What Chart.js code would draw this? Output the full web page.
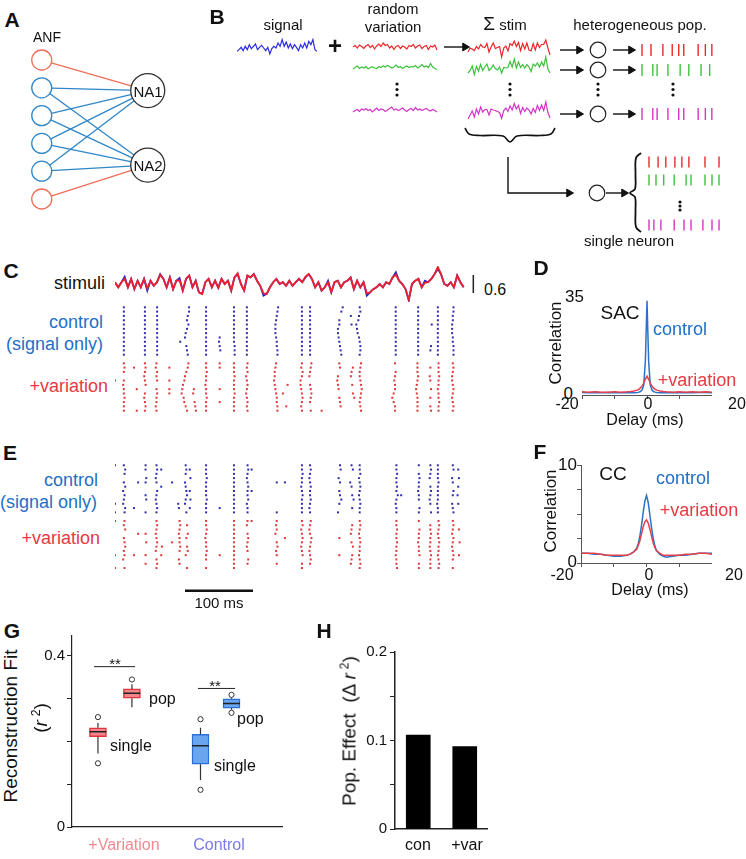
<!DOCTYPE html>
<html>
<head>
<meta charset="utf-8">
<script src="https://cdn.jsdelivr.net/npm/chart.js@4.4.1/dist/chart.umd.min.js"></script>
<style>
	body { margin: 0; background: #fff; }
	#fig { position: relative; width: 746px; height: 859px; overflow: hidden; font-family: "Liberation Sans", Arial, sans-serif; }
	.t { position: absolute; white-space: nowrap; line-height: 1; z-index: 5; }
	.p { position: absolute; }
	sup { font-size: 65%; vertical-align: 0.55em; line-height: 0; }
</style>
</head>
<body>
<div id="fig"></div>
<script>
/*
 * DATA
 */
	var o = null;

	/* A - network */
	var anfRows = [0, 1, 2, 3, 4, 5];
	var anfKind = ['r', 'b', 'b', 'b', 'b', 'r'];
	var naRows = [1.1, 3.78];
	var links = [[0,0],[1,0],[1,1],[2,0],[2,1],[3,0],[3,1],[4,0],[4,1],[5,1]];

	/* B - schematic traces, arbitrary units */
	var signalTrace = [-0.67,-0.33,0.13,-0.53,0.33,-0.33,0.67,-0.13,0.33,0.8,-0.33,0.13,0.53,0,-0.53,0.13,-1.2,-0.13,0.33,0,1.0,0.33,1.67,0.33,1.2,0,0.8,-0.13,0.67,0.13,-0.53,0.67,0,1.0,0,1.33,0.67,1.67,-0.33,-0.67];
	var varRed = [0,0.3,-0.2,0.4,0.1,-0.3,0.2,0.5,-0.1,0.3,-0.4,0.2,0.6,0.1,0.8,0.3,0.5,-0.2,0.2,-0.5,0.1,0.3,-0.3,0.2,0,-0.4,0.3,0.1,0.5,-0.2,0.2,0.4,-0.3,0.1,0.3,-0.5,0.2,0,0.4,-0.6];
	var varGreen = [-0.2,0.1,0.4,-0.1,0.2,0,0.3,-0.2,0.1,0.2,0,-0.1,0.3,0.1,0.4,0.2,0.5,0.3,0,0.2,0.6,0.1,0.3,-0.1,0.2,0.4,0.1,0.3,0.2,0.5,0,0.3,0.7,0.2,0.4,0.1,0.9,0.2,-0.1,-0.3];
	var varMagenta = [-0.2,0.1,0.3,-0.1,0.4,0.2,0.5,0.1,0.3,-0.2,0.2,0.6,0.1,0.4,0.3,-0.1,0.2,0.5,0.8,0.2,0.4,0.1,0.3,0.6,0.2,-0.1,0.3,0.5,0.1,0.7,0.2,0.4,0.1,0.3,0.5,0.2,0,0.3,0.1,-0.2];
	var stimRed = [-0.6,0.2,0,-0.3,0.5,0,0.9,0.4,0.3,1.1,-0.6,0.4,1.2,0.1,0.3,0.5,-1.6,0.2,0.6,-0.4,1.1,0.7,1.6,0.5,1.3,-0.3,1.1,0,1.2,-0.2,-0.4,1.1,-0.2,1.2,0.3,0.9,0.9,1.8,0.2,-1.2];
	var stimGreen = [-0.8,-0.3,0.6,-1.1,0.5,-0.4,0.9,-0.3,0.4,1.0,-0.3,0.1,0.8,0.1,-0.2,0.4,-0.8,0.3,0.2,0.3,1.5,0.4,2.0,0.2,1.4,0.3,0.9,0.2,0.9,0.4,-0.5,1.0,0.6,1.2,0.4,1.4,0.6,2.4,0,-0.8];
	var stimMagenta = [-1.2,-0.4,0.4,-0.8,0.8,-0.2,1.2,0.2,0.7,0.7,-0.4,0.8,0.6,0.5,0.3,0.1,-1.1,0.5,1.0,0.3,1.4,0.6,1.9,0.8,1.5,-0.1,1.1,0.3,1.0,0.6,-0.2,0.9,0.1,1.5,0.5,1.6,0.5,2.2,0.1,-1.0];
	var popRed = [0,12.5,29,42,51,58,78,88,97];
	var popGreen = [0,15,21,36,53,65,82,94];
	var popMagenta = [0,15,21,36,51,58,78,88,97];
	var singleRed = [0,13,24,37,47,57,80,100];
	var singleGreen = [0,10,21,36,53,60,80,90,100];
	var singleMagenta = [0,7,17,36,50,60,77,90,100];

	/* C - stimuli: signal alone and signal + variation */
	var stimSignal = [0.06,-0.11,0.06,0.24,-0.11,0.17,-0.17,0.11,-0.11,0.17,
		-0.22,0.11,-0.06,0.06,0.33,0.17,-0.11,0.22,-0.17,0.11,
		0.2,-0.22,0.17,0.28,-0.11,0.11,-0.28,-0.33,0.06,0.17,
		-0.11,0.11,-0.13,0.17,0,0.11,-0.22,0.22,0.33,0,
		-0.22,0.28,0.22,0.33,0.11,-0.06,-0.39,-0.33,-0.11,0.06,
		0.17,0,0.06,-0.06,0.11,-0.06,0.06,0.17,0.06,0.22,
		0.33,0.17,-0.11,0.06,-0.22,-0.11,0.11,-0.28,0.06,0.11,
		-0.11,0.06,0.11,0.22,-0.17,0.11,-0.11,0.06,-0.39,-0.28,
		-0.17,-0.11,0,-0.11,0.06,0,0.22,0.39,0.11,0,
		-0.17,-0.55,0,0.11,0.17,-0.11,0.11,0.06,0.17,0.33,
		0.5,0.33,0,-0.06,0.06,-0.11,0.28,0.06,-0.11];
	var stimVaried = [0.06,-0.11,0.06,0.17,-0.11,0.17,-0.17,0.11,-0.11,0.17,
		-0.15,0.11,-0.06,0.06,0.3,0.17,-0.11,0.22,-0.17,0.11,
		0.12,-0.22,0.17,0.28,-0.11,0.11,-0.28,-0.33,0.06,0.17,
		-0.11,0.11,-0.13,0.17,0,0.11,-0.22,0.22,0.36,0,
		-0.22,0.28,0.22,0.33,0.11,-0.06,-0.31,-0.33,-0.11,0.06,
		0.17,0,0.06,-0.06,0.11,-0.06,0.06,0.17,0.06,0.25,
		0.33,0.17,-0.11,0.06,-0.22,-0.11,0.05,-0.28,0.06,0.11,
		-0.11,0.06,0.11,0.22,-0.17,0.11,-0.11,0.06,-0.31,-0.28,
		-0.17,-0.11,0,-0.11,0.06,0,0.22,0.31,0.11,0,
		-0.17,-0.52,0,0.11,0.17,-0.11,0.04,0.06,0.17,0.33,
		0.57,0.33,0,-0.06,0.06,-0.11,0.28,0.06,-0.11];
	var stimBar = 0.6;

	/* C, E - rasters: [spike time (ms), offset in each of 12 trials (ms), null = no spike] */
	var rasterCBlue = [
		[13, 0,0,0,0,0,0,0,0,0,0,0,0],
		[44, 0,0,0,0,0,0,0,0,0,0,0,0],
		[62, 0,0,0,0,0,0,0,0,0,0,0,0],
		[106, 3,3,1,0,2,0,-2,-3,-10,-1,0,1],
		[134, 0,0,0,0,0,0,0,0,0,0,0,0],
		[154, o,o,o,o,o,o,o,0,-1,0,1,o],
		[175, 0,0,0,0,0,0,0,0,0,1,1,1],
		[194, 0,0,0,0,0,0,0,0,0,0,0,0],
		[238, 2,1,0,-1,-2,-2,-2,-1,0,0,1,1],
		[275, 0,0,0,0,0,0,0,0,0,0,0,0],
		[287, 0,0,0,0,0,0,0,0,0,0,0,0],
		[332, 3,1,o,-2,-2,-4,-4,-3,-2,-1,0,1],
		[347, o,o,0,o,1,o,o,o,o,o,o,o],
		[359, 1,2,0,-1,-4,-3,-2,0,1,2,2,1],
		[413, 0,0,0,0,0,0,0,0,0,0,0,0],
		[446, 0,0,0,0,0,0,0,0,0,0,0,0],
		[466, o,o,o,o,0,o,o,o,o,-1,-2,o],
		[475, 0,0,0,0,0,0,0,0,0,0,0,0],
		[497, 1,1,0,0,-1,-1,-1,0,0,1,1,1]
	];
	var rasterCRed = [
		[0, o,o,o,o,0,o,o,o,o,o,o,o],
		[13, 0,1,0,o,0,-1,0,0,1,0,0,0],
		[28, o,0,o,o,o,o,o,o,o,o,o,o],
		[32, o,o,o,o,o,o,0,o,o,o,o,0],
		[44, 0,1,0,-1,0,1,o,0,-1,0,1,0],
		[61, 0,-1,1,0,1,o,0,1,0,0,-1,0],
		[80, o,0,o,o,0,o,0,0,o,o,o,o],
		[104, 4,3,1,-1,-2,-4,-5,-6,-3,-2,0,2],
		[116, o,o,o,o,o,o,0,-1,o,1,2,3],
		[134, 0,0,1,0,0,-1,0,0,1,0,0,0],
		[154, 0,0,o,o,o,o,0,o,o,0,o,o],
		[175, 0,0,0,1,0,0,0,1,0,0,0,0],
		[194, 1,0,1,-1,0,1,0,-1,0,1,0,1],
		[237, 0,-1,-2,-2,-3,-2,-1,0,1,1,2,2],
		[250, o,o,o,o,o,4,o,-3,o,o,2,o],
		[275, 0,-1,1,0,-2,-2,-1,0,1,0,-1,0],
		[287, 2,1,0,-1,o,0,1,2,1,0,o,1],
		[304, o,o,o,o,o,o,o,o,o,o,o,0],
		[330, 0,1,o,-2,-3,-2,-1,o,0,1,2,o],
		[350, o,0,-2,-3,o,-1,o,0,2,o,o,o],
		[361, 1,0,-1,-1,0,1,2,1,0,-1,0,1],
		[412, 0,o,1,0,-1,0,0,-2,-4,-2,0,0],
		[445, 0,0,0,1,0,-1,-2,-1,0,0,0,0],
		[464, o,0,o,-1,0,o,1,o,0,o,0,1],
		[476, 0,0,0,1,0,0,-1,0,0,1,0,0],
		[497, 0,1,0,-1,-1,0,1,0,-1,0,1,0]
	];
	var rasterEBlue = [
		[0, 0,o,o,o,o,o,o,o,o,0,o,0],
		[13, 0,2,1,o,0,2,-1,1,0,-1,2,1],
		[28, o,o,o,o,o,o,o,o,o,o,0,o],
		[34, o,o,o,o,0,o,o,o,o,o,o,o],
		[45, 0,0,o,1,0,o,o,0,1,o,o,0],
		[61, 0,1,0,-1,0,o,1,0,-1,0,1,0],
		[68, o,0,o,o,o,0,o,o,o,o,o,o],
		[84, o,o,o,o,0,o,o,o,o,o,o,o],
		[93, o,o,o,o,o,o,o,o,o,0,1,o],
		[104, 0,1,0,o,-1,0,1,2,0,-1,o,1],
		[110, o,0,o,1,o,o,0,o,1,o,0,o],
		[134, 0,0,0,1,0,0,0,0,1,0,0,0],
		[154, o,o,o,o,o,o,o,o,o,o,0,o],
		[175, 0,0,0,0,0,0,0,0,0,0,0,0],
		[195, 0,1,0,-1,0,1,0,0,1,-1,0,0],
		[201, o,0,o,o,o,o,0,o,o,o,o,o],
		[238, o,o,o,o,0,o,o,o,o,o,o,0],
		[250, o,o,o,o,0,o,o,o,o,o,o,o],
		[275, 0,0,1,0,0,-1,0,1,0,0,0,0],
		[287, 0,1,0,-1,0,1,0,0,1,0,-1,0],
		[331, 0,1,o,-2,0,o,-1,0,2,-1,o,-3],
		[348, 0,2,o,o,-2,0,o,1,3,o,1,o],
		[360, 0,0,1,-1,0,1,0,-1,0,1,0,0],
		[414, 0,0,1,0,0,1,0,2,0,-1,0,0],
		[421, o,o,o,o,o,o,o,0,o,o,o,o],
		[447, 0,o,0,1,0,0,-1,0,0,o,1,0],
		[464, 0,1,0,-1,o,0,1,0,-1,0,o,1],
		[475, 0,0,0,0,1,0,0,0,0,-1,0,0],
		[497, 0,1,o,-1,0,o,1,0,o,-1,0,1],
		[505, o,0,o,1,o,0,o,-1,o,0,o,o]
	];
	var rasterERed = [
		[0, 0,o,o,o,o,o,o,o,0,o,o,0],
		[13, 1,0,2,o,0,1,2,0,1,-1,o,1],
		[28, o,o,o,o,o,o,o,o,0,o,o,o],
		[34, o,o,o,0,o,o,o,o,o,o,o,o],
		[45, o,o,o,0,o,1,o,o,0,o,0,o],
		[61, 0,1,0,-1,0,1,0,-1,o,0,1,0],
		[68, o,o,o,o,o,o,1,o,0,o,o,o],
		[84, o,o,o,o,o,0,o,o,o,o,o,o],
		[95, 0,1,0,-1,0,0,1,0,o,-1,0,o],
		[106, o,0,o,1,-1,o,0,1,-2,o,o,0],
		[134, 0,0,1,0,-1,0,0,1,0,0,o,0],
		[154, o,o,o,o,o,o,o,o,0,o,o,o],
		[175, 0,0,0,0,0,0,0,0,0,0,0,0],
		[195, 0,-1,o,0,1,0,-1,0,o,1,0,o],
		[201, 0,o,o,o,o,o,o,o,o,o,o,o],
		[238, 0,-1,0,-2,o,0,1,-1,0,o,0,o],
		[250, o,o,o,o,0,o,o,o,o,o,o,o],
		[275, 0,1,-1,0,1,0,-1,0,1,o,0,0],
		[287, 1,0,-1,0,2,1,0,-1,0,1,0,o],
		[330, o,o,o,o,0,o,o,o,0,o,o,o],
		[348, o,1,0,-1,o,0,2,o,1,0,-1,o],
		[360, 0,1,0,-1,0,1,0,0,-1,0,1,0],
		[414, 0,0,1,0,0,1,0,0,-1,0,0,1],
		[447, 0,o,1,0,0,-1,0,0,1,o,0,0],
		[464, o,0,0,1,0,0,-1,0,1,0,0,0],
		[476, 0,1,0,-1,0,1,0,0,-1,0,1,0],
		[497, 0,1,0,-1,1,0,-1,0,1,0,o,0],
		[506, o,o,0,o,o,1,o,o,0,o,o,o]
	];
	var scaleBarMs = [103, 203];

	/* D, F - correlograms */
	var delays = [-20,-18,-16,-14,-12,-10,-8,-6,-5,-4,-3,-2.5,-2,-1.5,-1,-0.5,0,0.5,1,1.5,2,2.5,3,4,5,6,8,10,12,14,16,18,20];
	var sacControl = [0.9,0.8,0.9,0.8,0.9,0.8,0.8,0.9,0.8,0.8,0.9,1.0,1.2,1.8,3.5,12,33,12,3.5,1.8,1.2,1.0,0.9,0.8,0.8,0.8,0.9,0.8,0.9,0.8,0.9,0.9,0.8];
	var sacVaried = [1.1,1.0,1.1,1.0,1.0,1.1,1.0,1.1,1.2,1.4,1.7,2.0,2.5,3.2,4.2,5.5,6.6,5.5,4.2,3.2,2.5,2.0,1.7,1.4,1.2,1.1,1.0,1.1,1.0,1.1,1.0,1.1,1.0];
	var ccControl = [1.0,1.0,0.9,0.9,0.8,0.7,0.7,0.8,0.9,1.1,1.5,2.0,2.8,3.9,5.2,6.3,6.9,6.2,5.0,3.7,2.6,1.8,1.3,0.9,0.7,0.6,0.7,0.8,0.8,0.9,1.0,1.0,1.0];
	var ccVaried = [1.0,1.0,1.0,0.9,0.8,0.8,0.8,0.8,0.9,1.1,1.4,1.8,2.3,3.0,3.7,4.2,4.4,4.1,3.5,2.8,2.1,1.6,1.3,1.0,0.8,0.8,0.8,0.8,0.9,0.9,1.0,1.0,0.9];

	/* G - reconstruction fit boxes: +Var single, +Var pop, Control single, Control pop */
	var boxLo  = [0.172, 0.280, 0.110, 0.274];
	var boxQ1  = [0.211, 0.301, 0.147, 0.278];
	var boxMed = [0.223, 0.313, 0.190, 0.289];
	var boxQ3  = [0.232, 0.323, 0.217, 0.300];
	var boxHi  = [0.243, 0.334, 0.232, 0.303];
	var boxOut = [[0.257, 0.149], [0.345], [0.252, 0.087], [0.309, 0.267]];
	var sigLevel = [0.375, 0.324];
	var gTicks = [0, 0.1, 0.2, 0.3, 0.4];
	var gTickText = ['0', '', '', '', '0.4'];

	/* H - population effect */
	var hCats = ['con', '+var'];
	var hValues = [0.106, 0.093];
	var hTicks = [0, 0.05, 0.1, 0.15, 0.2];
	var hTickText = ['0', '', '0.1', '', '0.2'];

/*
 * LAYOUT
 */
	var BLUE_T = '#1f6fc6', RED_T = '#e63a40';
	var fig = document.getElementById('fig');

	Chart.defaults.font.family = '"Liberation Sans", Arial, sans-serif';
	Chart.defaults.font.size = 15;
	Chart.defaults.color = '#111';
	Chart.defaults.plugins.legend.display = false;
	Chart.defaults.plugins.tooltip.enabled = false;
	Chart.defaults.animation = false;
	Chart.defaults.events = [];
	Chart.defaults.responsive = false;

	/* TEXT - absolutely placed label */
	function txt(s, x, y, opt) {
		opt = opt || {};
		var d = document.createElement('div');
		d.className = 't';
		d.innerHTML = s;
		d.style.left = x + 'px';
		d.style.top = y + 'px';
		d.style.fontSize = (opt.size || 16) + 'px';
		if (opt.bold) d.style.fontWeight = 'bold';
		d.style.color = opt.color || '#111';
		var tx = opt.align == 'r' ? '-100%' : (opt.align == 'l' ? '0' : '-50%');
		d.style.transform = 'translate(' + tx + ',-50%)' + (opt.rot ? ' rotate(' + opt.rot + 'deg)' : '');
		fig.appendChild(d);
	}

	/* CHART - area = plotting box [x, y, w, h], pad = [left, right, top, bottom] */
	function panel(area, pad, cfg) {
		var w = Math.round(area[2] + pad[0] + pad[1]);
		var h = Math.round(area[3] + pad[2] + pad[3]);
		var d = document.createElement('div');
		d.className = 'p';
		d.style.left = (area[0] - pad[0]) + 'px';
		d.style.top = (area[1] - pad[2]) + 'px';
		var c = document.createElement('canvas');
		c.width = w; c.height = h;
		c.style.width = w + 'px'; c.style.height = h + 'px';
		d.appendChild(c);
		fig.appendChild(d);
		cfg.options.layout = { autoPadding: false, padding: cfg.options.pad || 0 };
		return new Chart(c, cfg);
	}

	function hidden(min, max, rev) {
		return { type: 'linear', display: false, min: min, max: max, reverse: !!rev };
	}
	/* fixed axis size, and no extra room for half labels at the ends */
	function fitW(n) {
		return function(s) { s.width = n; s.paddingTop = 0; s.paddingBottom = 0; };
	}
	function fitH(n) {
		return function(s) { s.height = n; s.paddingLeft = 0; s.paddingRight = 0; };
	}

	function path(data, color, width, more) {
		return Object.assign({ data: data, showLine: true, borderColor: color, borderWidth: width,
			pointRadius: 0, fill: false, tension: 0, clip: false }, more || {});
	}
	function marks(data, color, radius, more) {
		return Object.assign({ data: data, showLine: false, pointRadius: radius, pointStyle: 'circle',
			pointBackgroundColor: color, pointBorderColor: color, pointBorderWidth: 0, clip: false }, more || {});
	}
	function xy(arr) { return arr.map(function(p) { return { x: p[0], y: p[1] }; }); }

/*
 * PANEL A - network
 */
	(function() {
		var ds = [];
		links.forEach(function(l) {
			var col = anfKind[l[0]] == 'r' ? '#ee6e58' : '#2f86c8';
			ds.push(path([{ x: 0, y: anfRows[l[0]] }, { x: 1, y: naRows[l[1]] }], col, 1.3, { order: 2 }));
		});
		ds.push(marks(anfRows.map(function(r) { return { x: 0, y: r }; }), '#fff', 10, {
			pointBorderColor: anfKind.map(function(k) { return k == 'r' ? '#ee6e58' : '#2f86c8'; }),
			pointBorderWidth: 1.3, order: 0 }));
		ds.push(marks(naRows.map(function(r) { return { x: 1, y: r }; }), '#fff', 17, {
			pointBorderColor: '#333', pointBorderWidth: 1.3, order: 0 }));
		panel([20, 40, 150, 180], [0, 0, 0, 0], {
			type: 'scatter', data: { datasets: ds },
			options: { scales: { x: hidden(-0.205, 1.21), y: hidden(-0.72, 5.755, true) } }
		});
	})();

/*
 * PANEL B - schematic
 */
	(function() {
		var C_BLUE = '#2c2ce0', C_RED = '#e8282a', C_GREEN = '#3cc23c', C_MAG = '#d534c6';
		var ds = [];
		function trace(vals, x0, width, y0) {
			return vals.map(function(v, i) { return { x: x0 + i * width / (vals.length - 1), y: y0 - v * 5 }; });
		}
		function spikes(times, x0, k, y0, col, r) {
			return marks(times.map(function(t) { return { x: x0 + t * k, y: y0 }; }), col, r, {
				pointStyle: 'line', pointRotation: 90, pointBorderColor: col, pointBorderWidth: 1.4 });
		}
		function arrow(pts) {
			return path(xy(pts), '#111', 1.4, { pointRadius: pts.map(function(p, i) { return i == pts.length - 1 ? 4.5 : 0; }),
				pointStyle: 'triangle', pointRotation: 90, pointBackgroundColor: '#111', pointBorderColor: '#111', pointBorderWidth: 1 });
		}

		ds.push(path(trace(signalTrace, 237, 80, 48), C_BLUE, 1.2));
		ds.push(path(trace(varRed, 353, 84, 47), C_RED, 1.2));
		ds.push(path(trace(varGreen, 353, 84, 68), C_GREEN, 1.2));
		ds.push(path(trace(varMagenta, 353, 84, 111), C_MAG, 1.2));
		ds.push(path(trace(stimRed, 468, 82, 49), C_RED, 1.2));
		ds.push(path(trace(stimGreen, 468, 82, 69), C_GREEN, 1.2));
		ds.push(path(trace(stimMagenta, 468, 82, 113), C_MAG, 1.2));

		ds.push(spikes(popRed, 642, 0.72, 50, C_RED, 6));
		ds.push(spikes(popGreen, 642, 0.72, 70, C_GREEN, 6));
		ds.push(spikes(popMagenta, 642, 0.72, 114, C_MAG, 6));
		ds.push(spikes(singleRed, 649, 0.7, 162, C_RED, 5.5));
		ds.push(spikes(singleGreen, 649, 0.7, 180, C_GREEN, 5.5));
		ds.push(spikes(singleMagenta, 649, 0.7, 225, C_MAG, 5.5));

		var el = [];
		[397, 510, 598, 673].forEach(function(x) { [84, 89.5, 95].forEach(function(y) { el.push({ x: x, y: y }); }); });
		[202, 206, 210].forEach(function(y) { el.push({ x: 680, y: y }); });
		ds.push(marks(el, '#111', 1.6));

		ds.push(marks(xy([[598, 50], [598, 70], [598, 114], [597, 193]]), '#fff', 7.8, {
			pointBorderColor: '#222', pointBorderWidth: 1.2 }));

		[[444,465,47],[560,579,50],[560,579,70],[560,579,114],[613,631,50],[613,631,70],[613,631,114],[606,624,193]]
			.forEach(function(a) { ds.push(arrow([[a[0], a[2]], [a[1], a[2]]])); });
		ds.push(arrow([[508, 157], [508, 193], [569, 193]]));

		ds.push(path(xy([[465,128],[469,134],[480,135.5],[503,136],[510,142],[517,136],[540,135.5],[551,134],[555,128]]), '#111', 1.6, { tension: 0.35 }));
		ds.push(path(xy([[641,153],[636,158],[635.5,175],[635,189],[630,193],[635,197],[635.5,211],[636,227],[641,232]]), '#111', 1.8, { tension: 0.35 }));

		panel([225, 0, 500, 250], [0, 0, 0, 0], {
			type: 'scatter', data: { datasets: ds },
			options: { scales: { x: hidden(225, 725), y: hidden(0, 250, true) } }
		});
	})();

/*
 * PANEL C - stimuli and rasters
 */
	function raster(cols, first) {
		var out = [];
		cols.forEach(function(c) {
			for (var k = 1; k < c.length; k++) {
				if (c[k] !== null) out.push({ x: c[0] + c[k], y: first + k - 1 });
			}
		});
		return out;
	}
	var R_BLUE = '#2b2ba8', R_RED = '#dc3434';
	var dotOpt = { pointStyle: 'rect' };

	panel([115, 266, 368, 36], [0, 0, 0, 0], {
		type: 'scatter',
		data: { datasets: [
			path(stimVaried.map(function(v, i) { return { x: i, y: v }; }), '#f0202c', 1.8, { order: 0 }),
			path(stimSignal.map(function(v, i) { return { x: i, y: v }; }), '#2626c4', 1.8, { order: 1 }),
			path([{ x: 111, y: -stimBar / 2 }, { x: 111, y: stimBar / 2 }], '#222', 1.5)
		] },
		options: { scales: { x: hidden(0, 114), y: hidden(-0.6, 0.6) } }
	});

	panel([115, 303, 348, 112], [0, 0, 0, 0], {
		type: 'scatter',
		data: { datasets: [
			marks(raster(rasterCBlue, 0), R_BLUE, 1.4, dotOpt),
			marks(raster(rasterCRed, 13), R_RED, 1.4, dotOpt)
		] },
		options: { scales: { x: hidden(0, 512), y: hidden(-1, 25, true) } }
	});

/*
 * PANEL E - rasters with scale bar
 */
	panel([115, 461, 348, 137], [0, 0, 0, 0], {
		type: 'scatter',
		data: { datasets: [
			marks(raster(rasterEBlue, 0), R_BLUE, 1.4, dotOpt),
			marks(raster(rasterERed, 13), R_RED, 1.4, dotOpt),
			path([{ x: scaleBarMs[0], y: 29.3 }, { x: scaleBarMs[1], y: 29.3 }], '#111', 2.5)
		] },
		options: { scales: { x: hidden(0, 512), y: hidden(-1, 31, true) } }
	});

/*
 * PANELS D, F - correlograms
 */
	function corr(arr) { return delays.map(function(d, i) { return { x: d, y: arr[i] }; }); }
	var delayAxis = {
		type: 'linear', min: -20, max: 20, position: 'bottom',
		ticks: { display: false, stepSize: 10 },
		grid: { drawOnChartArea: false, tickLength: 4, color: '#555' },
		border: { color: '#555', width: 1 },
		afterFit: fitH(6)
	};

	panel([582, 295, 130, 100], [0, 0, 0, 6], {
		type: 'scatter',
		data: { datasets: [
			path(corr(sacVaried), '#e6404a', 1.5, { order: 0 }),
			path(corr(sacControl), '#2a72c8', 1.5, { order: 1 })
		] },
		options: { scales: { x: delayAxis, y: hidden(0, 35) } }
	});

	panel([581, 465, 131, 98], [6, 0, 0, 6], {
		type: 'scatter',
		data: { datasets: [
			path(corr(ccVaried), '#e6404a', 1.5, { order: 0 }),
			path(corr(ccControl), '#2a72c8', 1.5, { order: 1 })
		] },
		options: { scales: {
			x: Object.assign({}, delayAxis),
			y: { type: 'linear', min: 0, max: 10, position: 'left',
				ticks: { display: false, stepSize: 2.5 },
				grid: { drawOnChartArea: false, tickLength: 4, color: '#555' },
				border: { color: '#555', width: 1 },
				afterFit: fitW(6) }
		} }
	});

/*
 * PANEL G - box plots
 */
	(function() {
		var gPos = [1.23, 2.84, 6.09, 7.56];
		var sigSpan = [[1.04, 2.99], [5.97, 7.73]];
		var fills = ['#f2868c', '#f2868c', '#6aa6ee', '#6aa6ee'];
		var edges = ['#e2343e', '#e2343e', '#2c6fd8', '#2c6fd8'];
		var half = 0.4;
		var whisk = [], meds = [], outs = [], sig = [];
		gPos.forEach(function(x, i) {
			whisk.push({ x: x, y: boxLo[i] }, { x: x, y: boxQ1[i] }, { x: x, y: null });
			whisk.push({ x: x, y: boxQ3[i] }, { x: x, y: boxHi[i] }, { x: x, y: null });
			meds.push({ x: x - half, y: boxMed[i] }, { x: x + half, y: boxMed[i] }, { x: x, y: null });
			boxOut[i].forEach(function(v) { outs.push({ x: x, y: v }); });
		});
		sigSpan.forEach(function(s, i) {
			sig.push({ x: s[0], y: sigLevel[i] }, { x: s[1], y: sigLevel[i] }, { x: s[1], y: null });
		});
		panel([72, 635, 211, 192], [40, 0, 0, 12], {
			type: 'bar',
			data: { datasets: [
				{ type: 'bar', data: gPos.map(function(x, i) { return { x: x, y: [boxQ1[i], boxQ3[i]] }; }),
					backgroundColor: fills, borderColor: edges, borderWidth: 1.5, borderSkipped: false,
					barThickness: 17, order: 3 },
				Object.assign(path(whisk, '#333', 1.2, { spanGaps: false, order: 2 }), { type: 'line' }),
				Object.assign(path(meds, '#222', 1.5, { spanGaps: false, order: 1 }), { type: 'line' }),
				Object.assign(path(sig, '#222', 1, { spanGaps: false, order: 1 }), { type: 'line' }),
				Object.assign(marks(outs, '#fff', 2.6, { pointBorderColor: '#333', pointBorderWidth: 1, order: 0 }), { type: 'line' })
			] },
			options: {
				pad: { bottom: 10 },
				scales: {
					x: { type: 'linear', min: 0, max: 10, offset: false, position: 'bottom',
						ticks: { display: false }, grid: { display: false },
						border: { color: '#222', width: 1.2 }, afterFit: fitH(2) },
					y: { type: 'linear', min: 0, max: 0.449, position: 'left',
						afterBuildTicks: function(s) { s.ticks = gTicks.map(function(v) { return { value: v }; }); },
						ticks: { padding: 2, font: { size: 15 }, callback: function(v, i) { return gTickText[i]; } },
						grid: { drawOnChartArea: false, tickLength: 5, color: '#222' },
						border: { color: '#222', width: 1.2 }, afterFit: fitW(40) }
				}
			}
		});
	})();

/*
 * PANEL H - population effect bars
 */
	panel([395, 652, 93, 177], [40, 0, 10, 10], {
		type: 'bar',
		data: { labels: hCats, datasets: [{ data: hValues, backgroundColor: '#000', barThickness: 24 }] },
		options: {
			pad: { top: 10, bottom: 6 },
			scales: {
				x: { ticks: { display: false }, grid: { display: false },
					border: { color: '#222', width: 1.5 }, afterFit: fitH(4) },
				y: { min: 0, max: 0.2,
					afterBuildTicks: function(s) { s.ticks = hTicks.map(function(v) { return { value: v }; }); },
					ticks: { padding: 3, font: { size: 15 }, callback: function(v, i) { return hTickText[i]; } },
					grid: { drawOnChartArea: false, tickLength: 5, color: '#222' },
					border: { color: '#222', width: 1.5 }, afterFit: fitW(40) }
			}
		}
	});

/*
 * TEXT
 */
	/* A */
	txt('A', 12, 19, { bold: true, size: 21 });
	txt('ANF', 47, 37, { size: 14 });
	txt('NA1', 148, 91, { size: 15 });
	txt('NA2', 148, 165, { size: 15 });
	/* B */
	txt('B', 217, 16, { bold: true, size: 21 });
	txt('signal', 283, 24, { size: 15 });
	txt('random', 393, 8, { size: 15 });
	txt('variation', 393, 26, { size: 15 });
	txt('+', 335, 46, { bold: true, size: 24 });
	txt('<span style="font-size:19px">&Sigma;</span> stim', 505, 23, { size: 15 });
	txt('heterogeneous pop.', 640, 24, { size: 15 });
	txt('single neuron', 629, 240, { size: 15 });
	/* C */
	txt('C', 11, 270, { bold: true, size: 21 });
	txt('stimuli', 105, 283, { size: 18, align: 'r' });
	txt('0.6', 484, 290, { size: 16, align: 'l' });
	txt('control', 103, 322, { size: 18, align: 'r', color: BLUE_T });
	txt('(signal only)', 103, 344, { size: 18, align: 'r', color: BLUE_T });
	txt('+variation', 108, 386, { size: 18, align: 'r', color: RED_T });
	/* D */
	txt('D', 541, 267, { bold: true, size: 21 });
	txt('35', 584, 296, { size: 17, align: 'r' });
	txt('0', 573, 393, { size: 17, align: 'r' });
	txt('SAC', 620, 312, { size: 19 });
	txt('control', 680, 329, { size: 18, color: BLUE_T });
	txt('+variation', 697, 380, { size: 18, color: RED_T });
	txt('-20', 567, 404, { size: 16 });
	txt('0', 648, 404, { size: 16 });
	txt('20', 737, 404, { size: 16 });
	txt('Delay (ms)', 645, 420, { size: 16 });
	txt('Correlation', 555, 343, { size: 17, rot: -90 });
	/* E */
	txt('E', 10, 452, { bold: true, size: 21 });
	txt('control', 98, 480, { size: 18, align: 'r', color: BLUE_T });
	txt('(signal only)', 97, 502, { size: 18, align: 'r', color: BLUE_T });
	txt('+variation', 100, 538, { size: 18, align: 'r', color: RED_T });
	txt('100 ms', 219, 602, { size: 15 });
	/* F */
	txt('F', 540, 451, { bold: true, size: 21 });
	txt('10', 577, 464, { size: 17, align: 'r' });
	txt('0', 577, 561, { size: 17, align: 'r' });
	txt('CC', 613, 473, { size: 19 });
	txt('control', 683, 478, { size: 18, color: BLUE_T });
	txt('+variation', 699, 510, { size: 18, color: RED_T });
	txt('-20', 562, 575, { size: 16 });
	txt('0', 649, 575, { size: 16 });
	txt('20', 734, 575, { size: 16 });
	txt('Delay (ms)', 650, 590, { size: 16 });
	txt('Correlation', 550, 511, { size: 17, rot: -90 });
	/* G */
	txt('G', 12, 630, { bold: true, size: 21 });
	txt('Reconstruction Fit', 10, 726, { size: 19, rot: -90 });
	txt('(<i>r</i>&thinsp;<sup>2</sup>)', 40, 718, { size: 19, rot: -90 });
	txt('**', 115, 663, { size: 15 });
	txt('**', 215, 685, { size: 15 });
	txt('pop', 149, 699, { size: 16, align: 'l' });
	txt('pop', 237, 719, { size: 16, align: 'l' });
	txt('single', 110, 746, { size: 16, align: 'l' });
	txt('single', 214, 766, { size: 16, align: 'l' });
	txt('+Variation', 124, 845, { size: 16, color: '#f08a90' });
	txt('Control', 219, 845, { size: 16, color: '#7a78ee' });
	/* H */
	txt('H', 324, 630, { bold: true, size: 21 });
	txt('Pop. Effect&nbsp; (&Delta; <i>r</i>&thinsp;<sup>2</sup>)', 349, 731, { size: 19, rot: -90 });
	txt('con', 418, 845, { size: 16 });
	txt('+var', 467, 845, { size: 16 });
</script>
</body>
</html>
